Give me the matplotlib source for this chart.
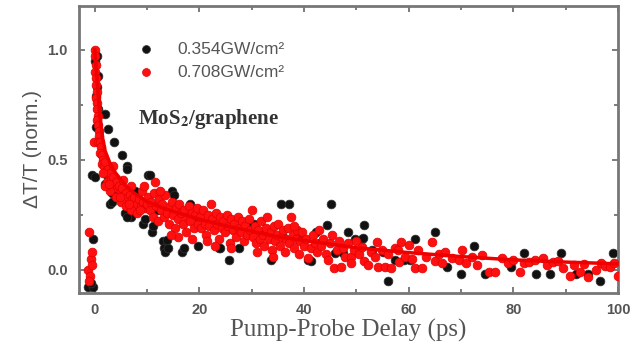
import matplotlib
matplotlib.use("Agg")
import matplotlib.pyplot as plt
from matplotlib.ticker import MultipleLocator

plt.rcParams['mathtext.fontset'] = 'stix'

# ---------------- data ----------------
black_x = [-1.3, -0.4, -0.8, -0.4, 0.0, 0.4, 0.6, 0.5, 0.2, 0.6, 1.9, 0.3, 2.5, 3.6, 5.3, 6.2,
           6.1, -0.5, 0.0, 1.9, 2.3, 3.3, 7.7, 2.9, 3.3, 5.8, 6.9, 6.1, 9.3, 9.6, 10.2, 10.6,
           11.0, 11.2, 14.8, 15.2, 18.3, 13.0, 13.2, 13.5, 16.7, 14.0, 17.0, 19.8, 23.7, 25.6,
           27.5, 30.4, 29.8, 33.7, 35.6, 37.1, 40.7, 41.3, 42.3, 44.4, 45.2, 46.0, 47.5, 48.4,
           49.7, 51.0, 51.3, 51.5, 56.0, 57.3, 59.0, 60.2, 61.2, 65.0, 67.3, 70.0, 72.5, 74.6,
           79.6, 82.0, 84.4, 86.9, 89.0, 92.0, 94.2, 96.5, 99.0, 13.8, 24.0,
           8.0, 12.0, 16.0, 20.0, 22.0, 26.0, 28.0, 32.0, 36.0, 39.0, 43.0, 53.0, 55.0]
black_y = [-0.08, -0.08, -0.06, 0.14, 0.95, 0.97, 0.88, 0.83, 0.79, 0.73, 0.71, 0.65, 0.64, 0.58,
           0.52, 0.47, 0.46, 0.43, 0.42, 0.39, 0.43, 0.35, 0.36, 0.30, 0.31, 0.26, 0.24, 0.24, 0.21,
           0.23, 0.43, 0.43, 0.17, 0.20, 0.36, 0.34, 0.30, 0.13, 0.10, 0.08, 0.08, 0.10, 0.10, 0.11,
           0.10, 0.045, 0.10, 0.21, 0.20, 0.045, 0.30, 0.30, 0.045, 0.04, 0.17, 0.205, 0.30, 0.077,
           0.077, 0.17, 0.14, 0.14, 0.145, 0.205, -0.05, 0.045, 0.045, 0.045, 0.14, 0.17, 0.014,
           -0.018, 0.11, -0.018, 0.014, 0.077, -0.018, -0.018, 0.077, -0.018, -0.018, -0.05, 0.077,
           0.136, 0.10,
           0.30, 0.27, 0.25, 0.22, 0.21, 0.19, 0.18, 0.16, 0.15, 0.14, 0.12, 0.09, 0.08]

red_x = [-1.0, -0.8, -1.2, -0.9, -0.5, -1.1, -0.6,
         0.0, 0.1, 0.2, 0.1, 0.3, 0.2, 0.4, 0.3, 0.5, 0.4, 0.6, 0.5, 0.7, 0.8, 0.9, -0.2, 0.6,
         1.0, 1.2, 1.1, 1.4, 1.6, 1.3, 1.8, 2.0, 2.2, 2.5, 2.7, 3.0, 2.4, 3.2, 3.5, 3.8, 4.0,
         4.3, 4.6, 5.0, 5.3, 5.6, 6.0, 6.4, 6.8, 7.2, 7.6, 8.0, 8.4, 8.8, 9.2, 9.6, 10.0,
         3.0, 4.0, 5.0, 6.0, 7.0, 8.0, 2.0, 3.5, 5.5, 7.0, 9.0, 1.5, 2.8, 4.8, 6.6, 8.6,
         10.2, 10.5, 10.8, 11.1, 11.4, 11.7, 12.0, 12.3, 12.6, 12.9, 13.2, 13.5, 13.8, 14.1,
         14.4, 14.7, 15.0, 15.3, 15.6, 15.9, 16.2, 16.5, 16.8, 17.1, 17.4, 17.7, 18.0, 18.3,
         18.6, 18.9, 19.2, 19.5, 19.8, 11.5, 12.5, 9.5, 16.0, 18.5, 14.5,
         20.1, 20.4, 20.7, 21.0, 21.3, 21.6, 21.9, 22.2, 22.5, 22.8, 23.1, 23.4, 23.7, 24.0,
         24.3, 24.6, 24.9, 25.2, 25.5, 25.8, 26.1, 26.4, 26.7, 27.0, 27.3, 27.6, 27.9, 28.2,
         28.5, 28.8, 29.1, 29.4, 29.7, 30.0, 23.0, 26.0, 21.5,
         30.3, 30.6, 30.9, 31.2, 31.5, 31.8, 32.1, 32.4, 32.7, 33.0, 33.3, 33.6, 33.9, 34.2,
         34.5, 34.8, 35.1, 35.4, 35.7, 36.0, 36.3, 36.6, 36.9, 37.2, 37.5, 37.8, 38.1, 38.4,
         38.7, 39.0, 39.3, 39.6, 39.9, 34.0, 31.0, 38.0,
         40.3, 40.8, 41.3, 41.7, 42.1, 42.5, 42.9, 43.3, 43.7, 44.1, 44.6, 45.0, 45.4, 45.8,
         46.2, 46.6, 47.1, 47.5, 47.9, 48.3, 49.0, 49.0, 49.5, 50.0, 50.5, 51.0, 51.5, 52.3,
         52.8, 53.5, 54.0, 54.2, 54.8, 55.4, 56.0, 56.7, 57.3, 58.0, 58.1, 58.6, 59.3, 60.0,
         60.6, 61.2, 61.8, 62.5, 63.2, 64.4, 65.0, 65.8, 66.3, 67.0, 68.3, 69.6, 70.2, 71.0,
         72.0, 73.0, 74.0, 75.4, 76.5, 77.9, 79.0, 80.0, 81.3, 82.0, 83.0, 84.2, 85.6, 86.5,
         87.5, 88.5, 89.4, 90.8, 91.5, 92.7, 93.5, 94.2, 95.8, 96.8, 97.5, 98.5, 99.3, 100.0]
red_y = [0.17, 0.05, 0.0, -0.03, 0.02, -0.05, 0.08,
         1.0, 0.97, 0.93, 0.90, 0.87, 0.84, 0.81, 0.78, 0.76, 0.73, 0.70, 0.68, 0.66, 0.63, 0.61,
         0.58, 0.58, 0.58, 0.56, 0.53, 0.52, 0.50, 0.48, 0.47, 0.49, 0.45, 0.46, 0.43, 0.44, 0.40,
         0.41, 0.42, 0.39, 0.40, 0.37, 0.38, 0.36, 0.37, 0.34, 0.35, 0.33, 0.34, 0.32, 0.33, 0.30,
         0.32, 0.29, 0.31, 0.28, 0.30,
         0.36, 0.33, 0.31, 0.29, 0.27, 0.26, 0.38, 0.47, 0.41, 0.38, 0.36, 0.44, 0.39, 0.33, 0.30,
         0.27,
         0.33, 0.27, 0.31, 0.24, 0.35, 0.29, 0.22, 0.32, 0.27, 0.30, 0.24, 0.34, 0.26, 0.21, 0.29,
         0.31, 0.25, 0.19, 0.28, 0.23, 0.30, 0.26, 0.21, 0.27, 0.17, 0.24, 0.29, 0.22, 0.26, 0.19,
         0.25, 0.28, 0.21, 0.40, 0.36, 0.38, 0.15, 0.14, 0.16,
         0.24, 0.19, 0.27, 0.21, 0.16, 0.25, 0.20, 0.30, 0.23, 0.18, 0.26, 0.21, 0.14, 0.24, 0.19,
         0.22, 0.17, 0.25, 0.20, 0.12, 0.23, 0.18, 0.21, 0.15, 0.24, 0.19, 0.17, 0.22, 0.13, 0.20,
         0.16, 0.23, 0.18, 0.27, 0.11, 0.10, 0.13,
         0.15, 0.20, 0.12, 0.18, 0.14, 0.22, 0.16, 0.11, 0.19, 0.24, 0.14, 0.17, 0.09, 0.20, 0.13,
         0.16, 0.21, 0.11, 0.15, 0.18, 0.08, 0.14, 0.19, 0.12, 0.24, 0.16, 0.10, 0.14, 0.18, 0.07,
         0.13, 0.17, 0.11, 0.06, 0.08, 0.20,
         0.14, 0.055, 0.10, 0.16, 0.12, 0.08, 0.18, 0.11, 0.14, 0.07, 0.045, 0.12, 0.16, 0.01,
         0.09, 0.13, 0.014, 0.10, 0.06, 0.12, 0.06, 0.03, 0.09, 0.13, 0.07, 0.105, 0.04, 0.023,
         0.08, 0.06, 0.127, 0.014, 0.09, 0.014, 0.07, 0.01, 0.10, 0.09, 0.036, 0.127, 0.06, 0.114,
         0.05, 0.01, 0.09, 0.01, 0.06, 0.127, 0.04, 0.07, 0.03, 0.08, 0.055, 0.045, 0.09, 0.03,
         0.06, 0.02, 0.068, -0.01, -0.01, 0.055, 0.03, 0.045, -0.01, 0.03, 0.036, 0.045, 0.055,
         0.02, 0.035, 0.04, 0.01, -0.03, 0.02, -0.01, 0.025, -0.035, 0.0, 0.03, 0.015, 0.014,
         0.03, -0.03]

fit_x = [0, 0.5, 1, 1.5, 2, 3, 4, 5, 6, 8, 10, 12, 15, 20, 25, 30, 35, 40, 50, 60, 70, 80, 90, 100]
fit_y = [1.0, 0.85, 0.70, 0.60, 0.54, 0.48, 0.44, 0.41, 0.38, 0.34, 0.31, 0.29, 0.265, 0.23,
         0.20, 0.175, 0.15, 0.133, 0.10, 0.078, 0.06, 0.045, 0.035, 0.027]

labels = ['0.354GW/cm²', '0.708GW/cm²']
x_label = 'Pump-Probe Delay (ps)'
y_label = 'ΔT/T (norm.)'
sample = 'MoS$_{\\mathbf{2}}$/graphene'

# ---------------- figure ----------------
fig = plt.figure(figsize=(6.34, 3.47), dpi=100)
ax = fig.add_axes([0.1246, 0.156, 0.8504, 0.827])

ax.scatter(black_x, black_y, s=40, color='#111111', edgecolors='#333333', linewidths=0.5,
           label=labels[0], zorder=2)
ax.scatter(red_x, red_y, s=40, color='#ff1010', edgecolors='#e00000', linewidths=0.5,
           label=labels[1], zorder=3)
ax.plot(fit_x, fit_y, color='#ee0000', lw=2.5, zorder=4)

ax.set_xlim(-3, 100)
ax.set_ylim(-0.105, 1.2)
ax.xaxis.set_major_locator(MultipleLocator(20))
ax.xaxis.set_minor_locator(MultipleLocator(10))
ax.yaxis.set_major_locator(MultipleLocator(0.5))
ax.yaxis.set_minor_locator(MultipleLocator(0.25))
ax.yaxis.set_major_formatter(matplotlib.ticker.FormatStrFormatter('%.1f'))
ax.tick_params(which='both', direction='in', top=True, right=True, color='#666666', width=1.2)
ax.tick_params(which='major', length=4)
ax.tick_params(which='minor', length=3)
ax.tick_params(axis='x', pad=7, labelsize=10.5)
ax.tick_params(axis='y', pad=8, labelsize=10.5)
for lab in ax.get_xticklabels() + ax.get_yticklabels():
    lab.set_fontfamily('Liberation Sans')
    lab.set_fontweight('bold')
    lab.set_color('#555555')

for sp in ax.spines.values():
    sp.set_color('#777777')
    sp.set_linewidth(2.0)

ax.set_xlabel(x_label, fontfamily='Liberation Serif', fontsize=18, color='#555555', labelpad=2)
ax.set_ylabel(y_label, fontfamily='Liberation Sans', fontsize=15, color='#555555', labelpad=4)

leg = ax.legend(loc='upper left', bbox_to_anchor=(0.08, 0.90), frameon=False,
                prop={'family': 'Liberation Sans', 'size': 12.5}, handletextpad=0.8,
                labelspacing=0.45, markerscale=0.9, borderaxespad=0)
for t in leg.get_texts():
    t.set_color('#555555')

ax.text(0.11, 0.59, sample, transform=ax.transAxes, fontfamily='Liberation Serif',
        fontweight='bold', fontsize=15, color='#333333')

fig.savefig('out.png', dpi=100)
